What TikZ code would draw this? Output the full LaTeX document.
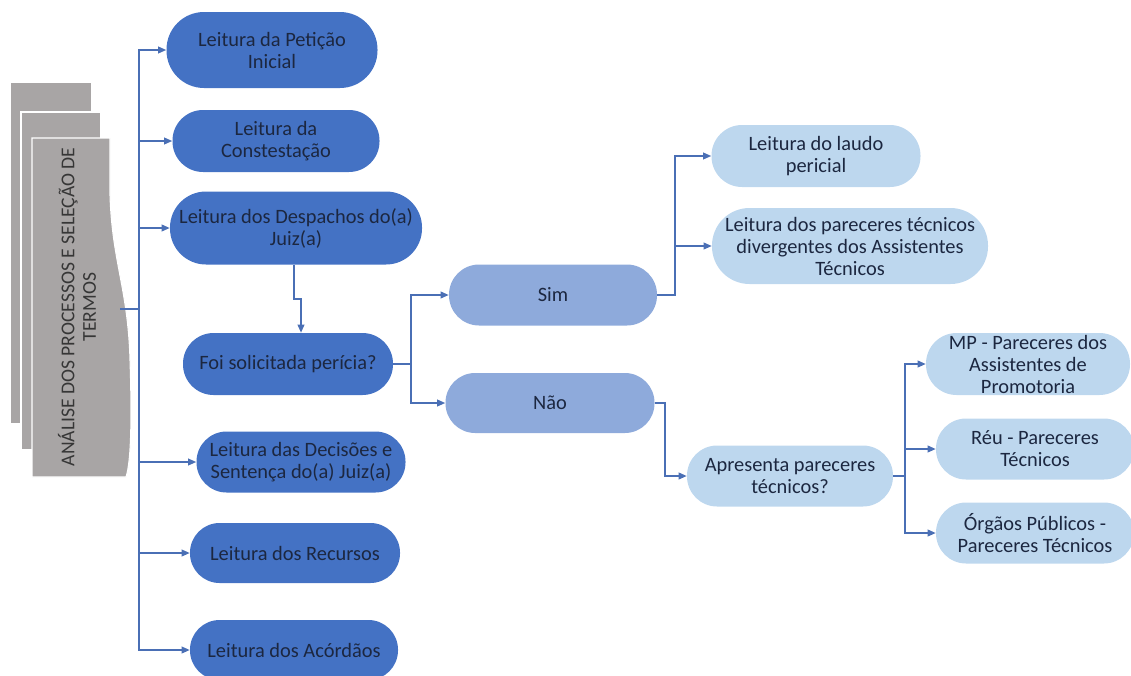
\documentclass[tikz,border=0pt]{standalone}
\usepackage{fontspec}
\setmainfont{Carlito}
\usetikzlibrary{arrows.meta}
\definecolor{darkfill}{HTML}{4472C4}
\definecolor{midfill}{HTML}{8EAADB}
\definecolor{lightfill}{HTML}{BDD7EE}
\definecolor{linkcol}{HTML}{4A6FB5}
\definecolor{txtcol}{HTML}{1C2740}
\definecolor{docgray}{HTML}{A8A5A5}
\definecolor{doctxt}{HTML}{363636}
\begin{document}
\begin{tikzpicture}[x=0.75pt,y=-0.75pt,
  pill/.style 2 args={draw=none, align=center, text=txtcol,
    font=\fontsize{15.3}{16.5}\selectfont, inner sep=0pt,
    minimum width=#1*0.75pt, minimum height=#2*0.75pt,
    rounded corners=#2*0.37pt},
  dark/.style={fill=darkfill},
  mid/.style={fill=midfill},
  light/.style={fill=lightfill},
  arr/.style={draw=linkcol, line width=1.1pt,
    -{Triangle[length=6pt,width=5pt]}},
  docsheet/.style={fill=docgray, draw=white, line width=0.8pt}]
\useasboundingbox (0,0) rectangle (1131,675);

% stacked document sheets
\fill[docgray] (11,83) rectangle (91,423);
\filldraw[docsheet] (21,112) rectangle (101,450);
\filldraw[docsheet] (32,138) -- (110,138) -- (110,195)
  .. controls (112,262) and (128,288) .. (130,360)
  .. controls (132,420) and (131,462) .. (126,477)
  -- (32,477) -- cycle;
\node[rotate=90, align=center, text=doctxt,
  font=\fontsize{14.7}{16}\selectfont] (title) at (77,307)
  {ANÁLISE DOS PROCESSOS E SELEÇÃO DE\\TERMOS};

% main reading steps
\node[pill={211}{76}, dark] (pet)  at (272,50)  {Leitura da Petição\\Inicial};
\node[pill={207}{62}, dark] (con)  at (276,141) {Leitura da\\Constestação};
\node[pill={252}{73}, dark] (desp) at (296,228) {Leitura dos Despachos do(a)\\Juiz(a)};
\node[pill={210}{62}, dark] (foi)  at (288,364) {Foi solicitada perícia?};
\node[pill={209}{61}, dark] (dec)  at (301,462) {Leitura das Decisões e\\Sentença do(a) Juiz(a)};
\node[pill={210}{60}, dark] (rec)  at (295,553) {Leitura dos Recursos};
\node[pill={208}{60}, dark] (aco)  at (294,650) {Leitura dos Acórdãos};

% answers
\node[pill={208}{61}, mid] (sim) at (553,295) {Sim};
\node[pill={209}{60}, mid] (nao) at (550,403) {Não};

% follow-up readings
\node[pill={209}{62}, light] (laudo) at (816,156) {Leitura do laudo\\pericial};
\node[pill={276}{76}, light] (par)   at (850,246) {Leitura dos pareceres técnicos\\divergentes dos Assistentes\\Técnicos};
\node[pill={206}{61}, light] (apr)   at (790,476) {Apresenta pareceres\\técnicos?};
\node[pill={204}{62}, light] (mp)    at (1028,364) {MP - Pareceres dos\\Assistentes de\\Promotoria};
\node[pill={198}{61}, light] (reu)   at (1035,449) {Réu - Pareceres\\Técnicos};
\node[pill={198}{61}, light] (org)   at (1035,533) {Órgãos Públicos -\\Pareceres Técnicos};

% trunk from the document stack
\coordinate (docR) at (120,309);
\coordinate (tr) at (139,309);
\draw[linkcol, line width=2.2pt] (docR) -- (tr);
\foreach \n in {pet,con,desp,dec,rec,aco}
  \draw[arr] (tr) |- (\n.west);

% despachos -> pericia
\coordinate (dj) at (294,299);
\coordinate (fj) at (301,299);
\draw[arr] (dj |- desp.south) -- (dj) -- (fj) -- (fj |- foi.north);

% pericia -> sim / nao
\coordinate (j1) at (411,364);
\draw[arr] (foi.east) -- (j1) |- (sim.west);
\draw[arr] (j1) |- (nao.west);

% sim -> readings
\coordinate (j2) at (675,295);
\draw[arr] (sim.east) -- (j2) |- (laudo.west);
\draw[arr] (j2) |- (par.west);

% nao -> apresenta
\coordinate (j3) at (665,403);
\draw[arr] (nao.east) -- (j3) |- (apr.west);

% apresenta -> sources
\coordinate (j4) at (905,476);
\draw[arr] (apr.east) -- (j4) |- (mp.west);
\draw[arr] (j4) |- (reu.west);
\draw[arr] (j4) |- (org.west);
\end{tikzpicture}
\end{document}
